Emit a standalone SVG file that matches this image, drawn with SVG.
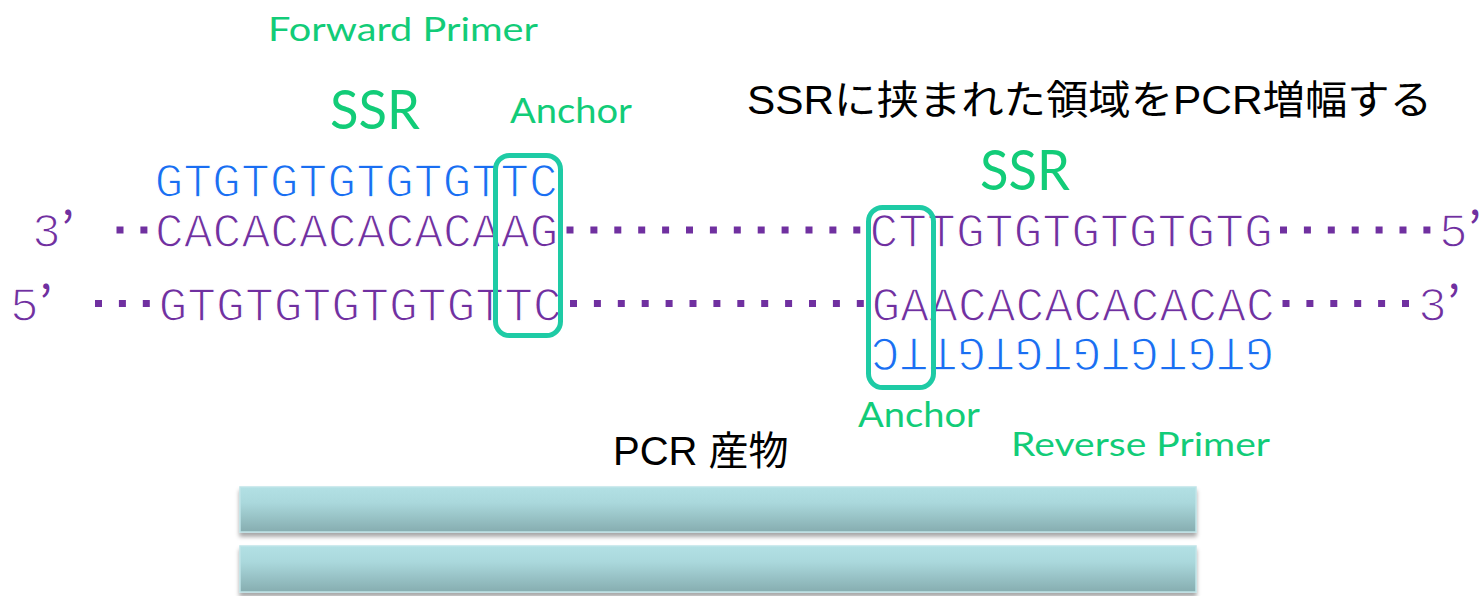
<svg xmlns="http://www.w3.org/2000/svg" width="1480" height="596" viewBox="0 0 1480 596">
  <defs>
    <style>
      .seq { font-family: "Liberation Mono", "Courier New", monospace; font-size: 48px; stroke: #fff; stroke-width: 1.4; paint-order: normal; }
      .strand { fill: #7030A0; }
      .primer { fill: #1A6EF2; }
      .tick { font-family: "Noto Sans CJK JP", sans-serif; font-size: 48px; fill: #7030A0; }
      .label { font-family: Lato, "Noto Sans", sans-serif; fill: #12CC78; }
      .title { font-family: "Liberation Sans", "Noto Sans CJK JP", sans-serif; font-size: 40px; fill: #000; }
      .dots { stroke: #7030A0; stroke-width: 7; stroke-dasharray: 7 16.9; fill: none; }
      .anchor { fill: none; stroke: #1ECBA5; stroke-width: 5; }
      .bar { fill: url(#barFill); stroke: #BFE4E7; stroke-width: 1.5; filter: url(#barShadow); }
    </style>
    <linearGradient id="barFill" x1="0" y1="0" x2="0" y2="1">
      <stop offset="0" stop-color="#B2E0E4"/>
      <stop offset="0.35" stop-color="#AAD8DC"/>
      <stop offset="1" stop-color="#86ADB0"/>
    </linearGradient>
    <filter id="barShadow" x="-5%" y="-30%" width="110%" height="170%">
      <feDropShadow dx="0" dy="4" stdDeviation="2.2" flood-color="#000" flood-opacity="0.35"/>
    </filter>
  </defs>

  <!-- labels -->
  <g id="forward-primer-label">
    <text class="label" x="268" y="41" font-size="33.5" textLength="270" lengthAdjust="spacingAndGlyphs">Forward Primer</text>
  </g>
  <g id="ssr-left-label">
    <text class="label" x="330" y="129" font-size="55" textLength="90" lengthAdjust="spacingAndGlyphs">SSR</text>
  </g>
  <g id="anchor-top-label">
    <text class="label" x="510" y="123" font-size="35" textLength="122" lengthAdjust="spacingAndGlyphs">Anchor</text>
  </g>
  <g id="title">
    <text class="title" x="747" y="114" textLength="685" lengthAdjust="spacingAndGlyphs">SSRに挟まれた領域をPCR増幅する</text>
  </g>
  <g id="ssr-right-label">
    <text class="label" x="980" y="190" font-size="56" textLength="90" lengthAdjust="spacingAndGlyphs">SSR</text>
  </g>
  <g id="anchor-bottom-label">
    <text class="label" x="858" y="427" font-size="35" textLength="122" lengthAdjust="spacingAndGlyphs">Anchor</text>
  </g>
  <g id="reverse-primer-label">
    <text class="label" x="1011" y="456" font-size="33.5" textLength="259" lengthAdjust="spacingAndGlyphs">Reverse Primer</text>
  </g>
  <g id="pcr-product-label">
    <text class="title" x="613" y="465">PCR 産物</text>
  </g>

  <!-- forward primer -->
  <g id="forward-primer">
    <text class="seq primer" x="154.5" y="197">GTGTGTGTGTGTTC</text>
  </g>

  <!-- upper strand 3' -> 5' -->
  <g id="upper-strand">
    <text class="seq strand" x="32" y="247">3</text>
    <text class="tick" x="61" y="247">’</text>
    <text class="seq strand" x="155" y="247">CACACACACACAAG</text>
    <text class="seq strand" x="869.5" y="247">CTTGTGTGTGTGTG</text>
    <text class="seq strand" x="1439" y="247">5</text>
    <text class="tick" x="1468" y="247">’</text>
  </g>

  <!-- lower strand 5' -> 3' -->
  <g id="lower-strand">
    <text class="seq strand" x="10" y="321">5</text>
    <text class="tick" x="39" y="321">’</text>
    <text class="seq strand" x="158.5" y="321">GTGTGTGTGTGTTC</text>
    <text class="seq strand" x="871.5" y="321">GAACACACACACAC</text>
    <text class="seq strand" x="1418" y="321">3</text>
    <text class="tick" x="1447" y="321">’</text>
  </g>

  <!-- reverse primer, printed upside down -->
  <g id="reverse-primer">
    <text class="seq primer" transform="translate(1274,338) rotate(180)" x="0" y="0">GTGTGTGTGTGTTC</text>
  </g>

  <!-- connectors: dotted spans between sequence blocks -->
  <g id="connectors">
    <line class="dots" x1="116.5" y1="230" x2="147.5" y2="230"/>
    <line class="dots" x1="566.5" y1="230" x2="860.3" y2="230"/>
    <line class="dots" x1="1280" y1="230" x2="1430.4" y2="230"/>
    <line class="dots" x1="95" y1="303.5" x2="149.8" y2="303.5"/>
    <line class="dots" x1="570" y1="303.5" x2="863.8" y2="303.5"/>
    <line class="dots" x1="1282.5" y1="303.5" x2="1409" y2="303.5"/>
  </g>

  <!-- anchor boxes -->
  <g id="anchor-forward">
    <rect class="anchor" x="495.5" y="155.5" width="65" height="180" rx="14"/>
  </g>
  <g id="anchor-reverse">
    <rect class="anchor" x="868.5" y="207.5" width="65" height="180" rx="14"/>
  </g>

  <!-- PCR product bars -->
  <g id="product-bar-1">
    <rect class="bar" x="240" y="487" width="956" height="45"/>
  </g>
  <g id="product-bar-2">
    <rect class="bar" x="240" y="546" width="956" height="46"/>
  </g>
</svg>
